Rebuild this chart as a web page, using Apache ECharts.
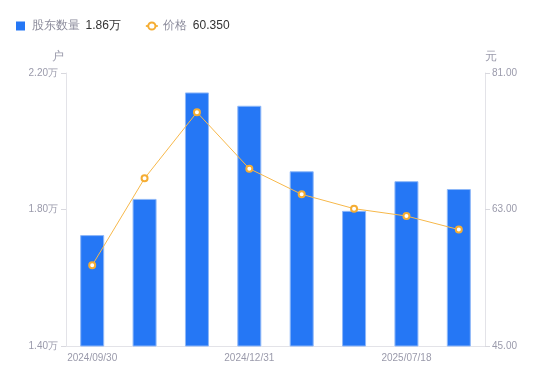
<!DOCTYPE html>
<html>
<head>
<meta charset="utf-8">
<title>股东数量</title>
<script src="https://cdn.jsdelivr.net/npm/echarts@6/dist/echarts.min.js"></script>
<style>
  html, body { margin: 0; padding: 0; background: #fff; }
  #chart { width: 550px; height: 381px; }
</style>
</head>
<body>
<div id="chart"></div>
<script>
// 报告期
var dates = ['2024/09/30', '2024/10/31', '2024/11/29', '2024/12/31', '2025/03/31', '2025/06/30', '2025/07/18', '2025/09/30'];
// 股东数量（万户）
var holders = [1.725, 1.831, 2.143, 2.104, 1.912, 1.796, 1.883, 1.86];
// 价格（元）
var prices = [55.64, 67.11, 75.82, 68.39, 65.0, 63.11, 62.14, 60.35];

var latest = {
  '股东数量': holders[holders.length - 1].toFixed(2) + '万',
  '价格': prices[prices.length - 1].toFixed(3)
};

var axisGray = '#9a9aab';
var lineGray = '#e3e3e8';

var myChart = echarts.init(document.getElementById('chart'));
myChart.setOption({
  animation: false,
  legend: {
    left: 11,
    top: 15,
    itemWidth: 12,
    itemHeight: 9,
    itemGap: 24,
    data: [
      { name: '股东数量', icon: 'path://M0,0h10v10h-10z', itemStyle: { borderWidth: 0 } },
      { name: '价格' }
    ],
    formatter: function (name) {
      return '{n|' + name + '}{v|' + latest[name] + '}';
    },
    textStyle: {
      rich: {
        n: { fontSize: 12, color: '#8c8c9c', padding: [0, 6, 0, 0] },
        v: { fontSize: 12, color: '#333' }
      }
    }
  },
  grid: { left: 66, right: 65, top: 73, bottom: 35 },
  xAxis: {
    type: 'category',
    data: dates,
    axisLine: { lineStyle: { color: lineGray } },
    axisTick: { show: false },
    axisLabel: { interval: 2, color: axisGray, fontSize: 10, margin: 7 }
  },
  yAxis: [
    {
      type: 'value',
      name: '户',
      min: 1.4,
      max: 2.2,
      interval: 0.4,
      nameGap: 10,
      nameTextStyle: { color: axisGray, fontSize: 12, align: 'right', padding: [0, 2, 0, 0] },
      axisLine: { show: true, lineStyle: { color: lineGray } },
      axisTick: { show: true, length: 5, lineStyle: { color: '#d8d8de' } },
      splitLine: { show: false },
      axisLabel: {
        color: axisGray, fontSize: 10, margin: 8,
        formatter: function (v) { return v.toFixed(2) + '万'; }
      }
    },
    {
      type: 'value',
      name: '元',
      min: 45,
      max: 81,
      interval: 18,
      nameGap: 10,
      nameTextStyle: { color: axisGray, fontSize: 12, align: 'left' },
      axisLine: { show: true, lineStyle: { color: lineGray } },
      axisTick: { show: true, length: 5, lineStyle: { color: '#d8d8de' } },
      splitLine: { show: false },
      axisLabel: {
        color: axisGray, fontSize: 10, margin: 7,
        formatter: function (v) { return v.toFixed(2); }
      }
    }
  ],
  series: [
    {
      name: '股东数量',
      type: 'bar',
      data: holders,
      barWidth: 24,
      itemStyle: { color: '#2577f5', borderColor: '#8fb8f8', borderWidth: 1 }
    },
    {
      name: '价格',
      type: 'line',
      yAxisIndex: 1,
      data: prices,
      symbol: 'circle',
      symbolSize: 6,
      lineStyle: { color: '#f7b84a', width: 1 },
      itemStyle: { color: '#fff', borderColor: '#f5ad33', borderWidth: 2 }
    }
  ]
});
</script>
</body>
</html>
